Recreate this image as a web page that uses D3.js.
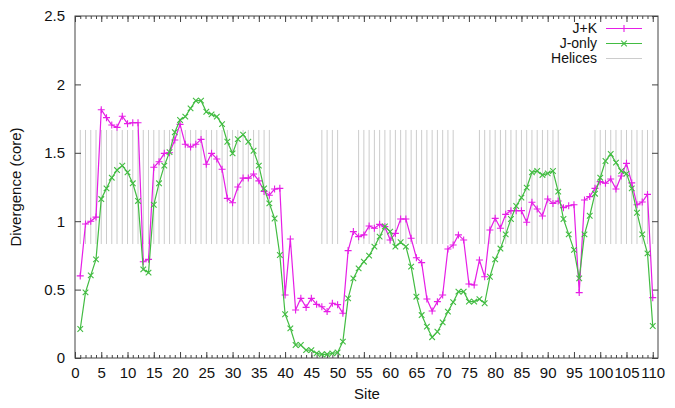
<!DOCTYPE html>
<html>
<head>
<meta charset="utf-8">
<script src="https://cdn.jsdelivr.net/npm/d3@7"></script>
<style>
body { margin: 0; background: #fff; }
text { font-family: "Liberation Sans", Arial, Helvetica, sans-serif; }
</style>
</head>
<body>
<svg id="chart" width="675" height="408"></svg>
<script>
// sites 1..110
var sites = d3.range(1, 111);

// divergence, J+K run
var jkValues = [
  0.60, 0.98, 1.00, 1.03, 1.815, 1.757, 1.703, 1.686, 1.767, 1.713,
  1.72, 1.72, 0.704, 0.721, 1.394, 1.435, 1.496, 1.50, 1.594, 1.708,
  1.562, 1.542, 1.562, 1.598, 1.416, 1.496, 1.455, 1.38, 1.167, 1.135,
  1.25, 1.315, 1.315, 1.345, 1.295, 1.218, 1.19, 1.235, 1.24, 0.46,
  0.87, 0.351, 0.436, 0.37, 0.436, 0.392, 0.375, 0.339, 0.40, 0.39,
  0.327, 0.785, 0.924, 0.887, 0.90, 0.965, 0.948, 0.977, 0.96, 0.863,
  0.911, 1.016, 1.016, 0.875, 0.733, 0.697, 0.431, 0.344, 0.412, 0.46,
  0.797, 0.826, 0.90, 0.863, 0.541, 0.534, 0.716, 0.594, 0.936, 1.021,
  0.948, 1.05, 1.077, 1.077, 1.077, 0.992, 1.138, 1.089, 1.038, 1.162,
  1.13, 1.148, 1.099, 1.113, 1.12, 0.478, 1.155, 1.18, 1.24, 1.289,
  1.277, 1.309, 1.235, 1.33, 1.423, 1.28, 1.12, 1.14, 1.196, 0.441
];

// divergence, J-only run
var jOnlyValues = [
  0.212, 0.48, 0.604, 0.721, 1.162, 1.24, 1.318, 1.374, 1.406, 1.357,
  1.277, 1.148, 0.648, 0.624, 1.12, 1.277, 1.406, 1.505, 1.65, 1.74,
  1.764, 1.825, 1.881, 1.881, 1.80, 1.781, 1.764, 1.71, 1.581, 1.496,
  1.60, 1.633, 1.581, 1.515, 1.406, 1.24, 1.13, 1.02, 0.753, 0.32,
  0.217, 0.095, 0.095, 0.058, 0.058, 0.034, 0.027, 0.027, 0.034, 0.04,
  0.12, 0.436, 0.582, 0.655, 0.704, 0.748, 0.814, 0.887, 0.962, 0.924,
  0.814, 0.846, 0.814, 0.668, 0.448, 0.314, 0.229, 0.152, 0.192, 0.26,
  0.339, 0.408, 0.485, 0.485, 0.412, 0.412, 0.43, 0.40, 0.594, 0.721,
  0.80, 0.904, 1.016, 1.111, 1.172, 1.245, 1.357, 1.367, 1.338, 1.35,
  1.367, 1.216, 1.016, 0.904, 0.79, 0.582, 0.904, 1.04, 1.201, 1.318,
  1.44, 1.491, 1.428, 1.367, 1.348, 1.24, 1.062, 0.904, 0.765, 0.234
];

// helix site ranges (first, last) and the band they are drawn over
var helixRanges = [[1, 37], [47, 50], [54, 72], [77, 92], [99, 110]];
var helixSpan = [0.833, 1.667];

var xTicks = d3.range(0, 111, 5);
var xMinorTicks = d3.range(1, 111);
var yTicks = [0, 0.5, 1, 1.5, 2, 2.5];
var seriesNames = ["J+K", "J-only", "Helices"];

var jkColor = "#e61ee6";
var jOnlyColor = "#42bc42";
var helixColor = "#cccccc";
var axisColor = "#444";

var svg = d3.select("#chart");
// plot box (note: "top" is reserved on window, so use other names)
var plotL = 75, plotR = 658, plotT = 16, plotB = 358;

var x = d3.scaleLinear().domain([0, 111]).range([plotL, plotR]);
var y = d3.scaleLinear().domain([0, 2.5]).range([plotB, plotT]);

// helix bars
var helixSites = [];
helixRanges.forEach(function(r) {
    for (var s = r[0]; s <= r[1]; s++) helixSites.push(s);
});
svg.append("g").selectAll("line")
    .data(helixSites)
    .enter().append("line")
    .attr("x1", function(d) { return x(d); })
    .attr("x2", function(d) { return x(d); })
    .attr("y1", y(helixSpan[0]))
    .attr("y2", y(helixSpan[1]))
    .attr("stroke", helixColor)
    .attr("stroke-width", 1);

// axes (ticks point inward, mirrored on top/right)
function tidy(g) {
    g.select(".domain").remove();
    g.selectAll("line").attr("stroke", axisColor);
    g.selectAll("text").attr("font-size", 15).attr("fill", "#111")
        .style("font-family", "'Liberation Sans', Arial, sans-serif");
}
svg.append("g").attr("transform", "translate(0," + plotB + ")")
    .call(d3.axisBottom(x).tickValues(xMinorTicks).tickSize(-3).tickFormat("")).call(tidy);
svg.append("g").attr("transform", "translate(0," + plotB + ")")
    .call(d3.axisBottom(x).tickValues(xTicks).tickSize(-6).tickPadding(9).tickFormat(d3.format("d"))).call(tidy);
svg.append("g").attr("transform", "translate(0," + plotT + ")")
    .call(d3.axisTop(x).tickValues(xMinorTicks).tickSize(-3).tickFormat("")).call(tidy);
svg.append("g").attr("transform", "translate(0," + plotT + ")")
    .call(d3.axisTop(x).tickValues(xTicks).tickSize(-6).tickFormat("")).call(tidy);
svg.append("g").attr("transform", "translate(" + plotL + ",0)")
    .call(d3.axisLeft(y).tickValues(yTicks).tickSize(-6).tickPadding(10).tickFormat(function(d) { return String(d); })).call(tidy);
svg.append("g").attr("transform", "translate(" + plotR + ",0)")
    .call(d3.axisRight(y).tickValues(yTicks).tickSize(-6).tickFormat("")).call(tidy);

svg.append("rect")
    .attr("x", plotL).attr("y", plotT)
    .attr("width", plotR - plotL).attr("height", plotB - plotT)
    .attr("fill", "none").attr("stroke", axisColor).attr("stroke-width", 1);

// series
var plusPath = "M-3.5,0H3.5M0,-3.5V3.5";
var crossPath = "M-2.8,-2.8L2.8,2.8M-2.8,2.8L2.8,-2.8";

function drawSeries(values, color, marker) {
    var line = d3.line()
        .x(function(d, i) { return x(sites[i]); })
        .y(function(d) { return y(d); });
    svg.append("path")
        .datum(values)
        .attr("d", line)
        .attr("fill", "none")
        .attr("stroke", color)
        .attr("stroke-width", 1.2);
    svg.append("g").selectAll("path")
        .data(values)
        .enter().append("path")
        .attr("transform", function(d, i) { return "translate(" + x(sites[i]) + "," + y(d) + ")"; })
        .attr("d", marker)
        .attr("fill", "none")
        .attr("stroke", color)
        .attr("stroke-width", 1.1);
}
drawSeries(jkValues, jkColor, plusPath);
drawSeries(jOnlyValues, jOnlyColor, crossPath);

// legend
var legendColors = [jkColor, jOnlyColor, helixColor];
var legendMarkers = [plusPath, crossPath, null];
var legend = svg.append("g");
seriesNames.forEach(function(name, i) {
    var base = 33 + i * 15;
    legend.append("text")
        .attr("x", 597).attr("y", base)
        .attr("text-anchor", "end")
        .attr("font-size", 14)
        .attr("fill", "#111")
        .text(name);
    legend.append("line")
        .attr("x1", 606).attr("x2", 642)
        .attr("y1", base - 4.5).attr("y2", base - 4.5)
        .attr("stroke", legendColors[i])
        .attr("stroke-width", i === 2 ? 1 : 1.2);
    if (legendMarkers[i]) {
        legend.append("path")
            .attr("transform", "translate(624," + (base - 4.5) + ")")
            .attr("d", legendMarkers[i])
            .attr("fill", "none")
            .attr("stroke", legendColors[i])
            .attr("stroke-width", 1.1);
    }
});

// axis titles
svg.append("text")
    .attr("x", 367).attr("y", 399)
    .attr("text-anchor", "middle")
    .attr("font-size", 15)
    .attr("fill", "#111")
    .text("Site");
svg.append("text")
    .attr("transform", "translate(21,187) rotate(-90)")
    .attr("text-anchor", "middle")
    .attr("font-size", 15)
    .attr("fill", "#111")
    .text("Divergence (core)");
</script>
</body>
</html>
